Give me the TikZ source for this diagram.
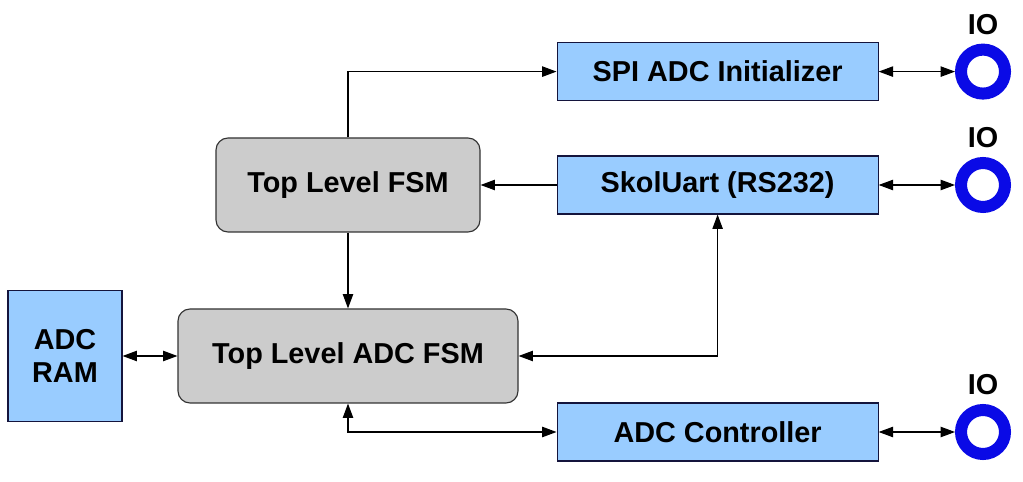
\documentclass[tikz,border=0pt]{standalone}
\usepackage{fontspec}
\setmainfont{Liberation Sans}
\usetikzlibrary{positioning,arrows.meta}
\definecolor{boxblue}{RGB}{153,204,255}
\definecolor{boxgray}{RGB}{204,204,204}
\definecolor{ioblue}{RGB}{10,10,230}
\definecolor{navy}{RGB}{20,20,60}

\begin{document}
\begin{tikzpicture}[
	font=\fontsize{20.5}{24}\selectfont\bfseries,
	blk/.style={draw=navy, line width=0.8pt, fill=boxblue, minimum width=8.025cm, minimum height=1.45cm, inner sep=0pt},
	fsm/.style={draw=black!80, line width=0.8pt, fill=boxgray, rounded corners=0.3cm, minimum height=2.35cm, inner sep=0pt},
	iopin/.style={circle, draw=ioblue, line width=0.3cm, minimum size=1.1cm, inner sep=0pt, outer sep=0.15cm},
	iolbl/.style={inner sep=0pt},
	link/.style={line width=0.8pt, -{Triangle[length=0.36cm,width=0.26cm]}},
	bilink/.style={line width=0.8pt, {Triangle[length=0.36cm,width=0.26cm]}-{Triangle[length=0.36cm,width=0.26cm]}}
	]
		\useasboundingbox[fill=white] (0,0) rectangle (25.575,-12.05);
		% blocks
		\node[blk] (spi) at (17.94,-1.79) {SPI ADC Initializer};
		\node[blk] (uart) at (17.94,-4.625) {SkolUart (RS232)};
		\node[blk] (ctrl) at (17.94,-10.8) {ADC Controller};
		\node[fsm, minimum width=6.6cm] (topfsm) at (8.7,-4.625) {Top Level FSM};
		\node[fsm, minimum width=8.5cm] (adcfsm) at (8.7,-8.9) {Top Level ADC FSM};
		\node[blk, minimum width=2.85cm, minimum height=3.275cm, align=center] (ram) at (1.625,-8.9) {ADC\\RAM};
		% io pins
		\node[iopin] (io1) at (24.575,-1.79) {};
		\node[iopin] (io2) at (24.575,-4.625) {};
		\node[iopin] (io3) at (24.575,-10.8) {};
		\node[iolbl, above=0.22cm of io1] (lbl1) {IO};
		\node[iolbl, above=0.22cm of io2] (lbl2) {IO};
		\node[iolbl, above=0.22cm of io3] (lbl3) {IO};
		% connections
		\draw[link] (topfsm.north) |- (spi.west);
		\draw[link] (uart.west) -- (topfsm.east);
		\draw[link] (topfsm.south) -- (adcfsm.north);
		\draw[bilink] (ram.east) -- (adcfsm.west);
		\draw[bilink] (adcfsm.east) -| (uart.south);
		\draw[bilink] (adcfsm.south) |- (ctrl.west);
		\draw[bilink] (spi.east) -- (io1.west);
		\draw[bilink] (uart.east) -- (io2.west);
		\draw[bilink] (ctrl.east) -- (io3.west);
	\end{tikzpicture}
\end{document}
